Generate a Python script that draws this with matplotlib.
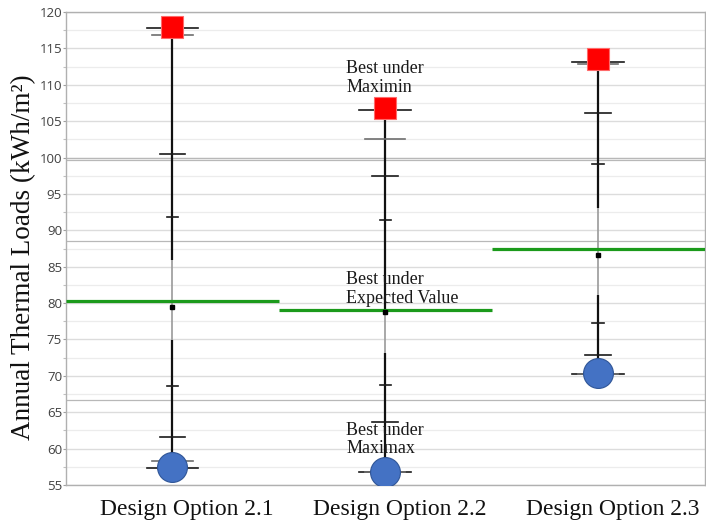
import matplotlib
matplotlib.use("Agg")
import matplotlib.pyplot as plt
import matplotlib.transforms as mtransforms
import numpy as np

# Design options compared
options = ["Design Option 2.1", "Design Option 2.2", "Design Option 2.3"]

# Annual thermal loads (kWh/m2) per option
worst_case = [117.9, 106.8, 113.5]      # red squares (Maximin criterion)
best_case = [57.5, 56.8, 70.4]          # blue circles (Maximax criterion)
expected_value = [80.3, 79.0, 87.4]     # green lines (Expected Value criterion)
sample_mean = [79.4, 78.8, 86.6]        # small black squares
range_max = [117.8, 106.6, 113.1]
range_min = [57.4, 56.8, 70.3]

# Quantile caps along each whisker, from widest to narrowest
upper_caps = [[117.8, 116.85, 100.5, 91.8],
              [106.6, 102.6, 97.4, 91.4],
              [113.1, 112.8, 106.1, 99.1]]
lower_caps = [[57.4, 58.3, 61.6, 68.6],
              [56.8, 56.8, 63.7, 68.7],
              [70.3, 70.3, 72.8, 77.3]]
# Central interval drawn as a thin grey line
mid_upper = [85.9, 79.0, 93.0]
mid_lower = [74.9, 73.2, 81.1]

# Extra horizontal reference lines
ref_lines = [99.9, 99.6, 88.55, 66.7]

annotations = ["Best under\nMaximin", "Best under\nExpected Value", "Best under\nMaximax"]
annotation_y = [113.4, 84.4, 63.7]

cap_half_widths = [0.122, 0.094, 0.061, 0.028]
cap_colors = ["#1a1a1a", "#6e6e6e", "#1a1a1a", "#1a1a1a"]

fig = plt.figure(figsize=(7.06, 5.23), dpi=100)
ax = fig.add_axes([0.0935, 0.0727, 0.905, 0.9043])

ax.set_xlim(-0.5, 2.5)
ax.set_ylim(55, 120)

# grid
for y in np.arange(55, 120.01, 2.5):
    major = abs(y / 5 - round(y / 5)) < 1e-6
    ax.axhline(y, color="#dcdcdc" if major else "#ececec", lw=1.0 if major else 0.9, zorder=0)
for y in ref_lines:
    ax.axhline(y, color="#b8b8b8", lw=0.9, zorder=0.5)

x = np.arange(len(options))
for i in x:
    # whisker: dark outer parts, thin grey centre part
    ax.plot([i, i], [mid_upper[i], range_max[i]], color="#111111", lw=1.6, zorder=2,
            solid_capstyle="butt")
    ax.plot([i, i], [range_min[i], mid_lower[i]], color="#111111", lw=1.6, zorder=2,
            solid_capstyle="butt")
    ax.plot([i, i], [mid_lower[i], mid_upper[i]], color="#9a9a9a", lw=1.2, zorder=2,
            solid_capstyle="butt")
    for vals in (upper_caps[i], lower_caps[i]):
        for v, hw, c in zip(vals, cap_half_widths, cap_colors):
            ax.plot([i - hw, i + hw], [v, v], color=c, lw=1.2, zorder=2.5)
    # expected value line across the category
    ax.plot([i - 0.5, i + 0.5], [expected_value[i]] * 2, color="#1b9a1b", lw=2.3, zorder=3,
            solid_capstyle="butt")

ax.plot(x, sample_mean, ls="none", marker="s", ms=3, color="black", zorder=4)
ax.plot(x, worst_case, ls="none", marker="s", ms=16.5, markerfacecolor="#ff0000",
        markeredgecolor="#ff6a6a", markeredgewidth=0.8, zorder=5)
ax.plot(x, best_case, ls="none", marker="o", ms=21.5, markerfacecolor="#4472c4",
        markeredgecolor="#2f5597", markeredgewidth=0.8, zorder=5)

for txt, yv in zip(annotations, annotation_y):
    ax.text(0.815, yv, txt, family="Liberation Serif", fontsize=13, color="#1a1a1a",
            ha="left", va="top", linespacing=1.12, zorder=6)

ax.set_xticks(x)
ax.set_xticklabels(options, family="Liberation Serif", fontsize=17, color="#111111")
ax.tick_params(axis="x", length=0, pad=10)
shift = mtransforms.ScaledTranslation(0.14, 0, fig.dpi_scale_trans)
for lab in ax.get_xticklabels():
    lab.set_transform(lab.get_transform() + shift)

ax.set_yticks(np.arange(55, 121, 5))
ax.set_yticks(np.arange(57.5, 120, 5), minor=True)
ax.tick_params(axis="y", which="major", length=2.2, width=0.8, color="#a0a0a0",
               labelsize=9.5, labelcolor="#404040", pad=0.6)
ax.tick_params(axis="y", which="minor", length=2.2, width=0.8, color="#c0c0c0")
for lab in ax.get_yticklabels():
    lab.set_family("Open Sans")

ax.set_ylabel("Annual Thermal Loads (kWh/m²)", family="Liberation Serif",
              fontsize=19.5, color="#111111")
ax.yaxis.set_label_coords(-0.047, 0.482)

for s in ax.spines.values():
    s.set_color("#b0b0b0")
    s.set_linewidth(1.0)

fig.savefig("out.png", dpi=100)
